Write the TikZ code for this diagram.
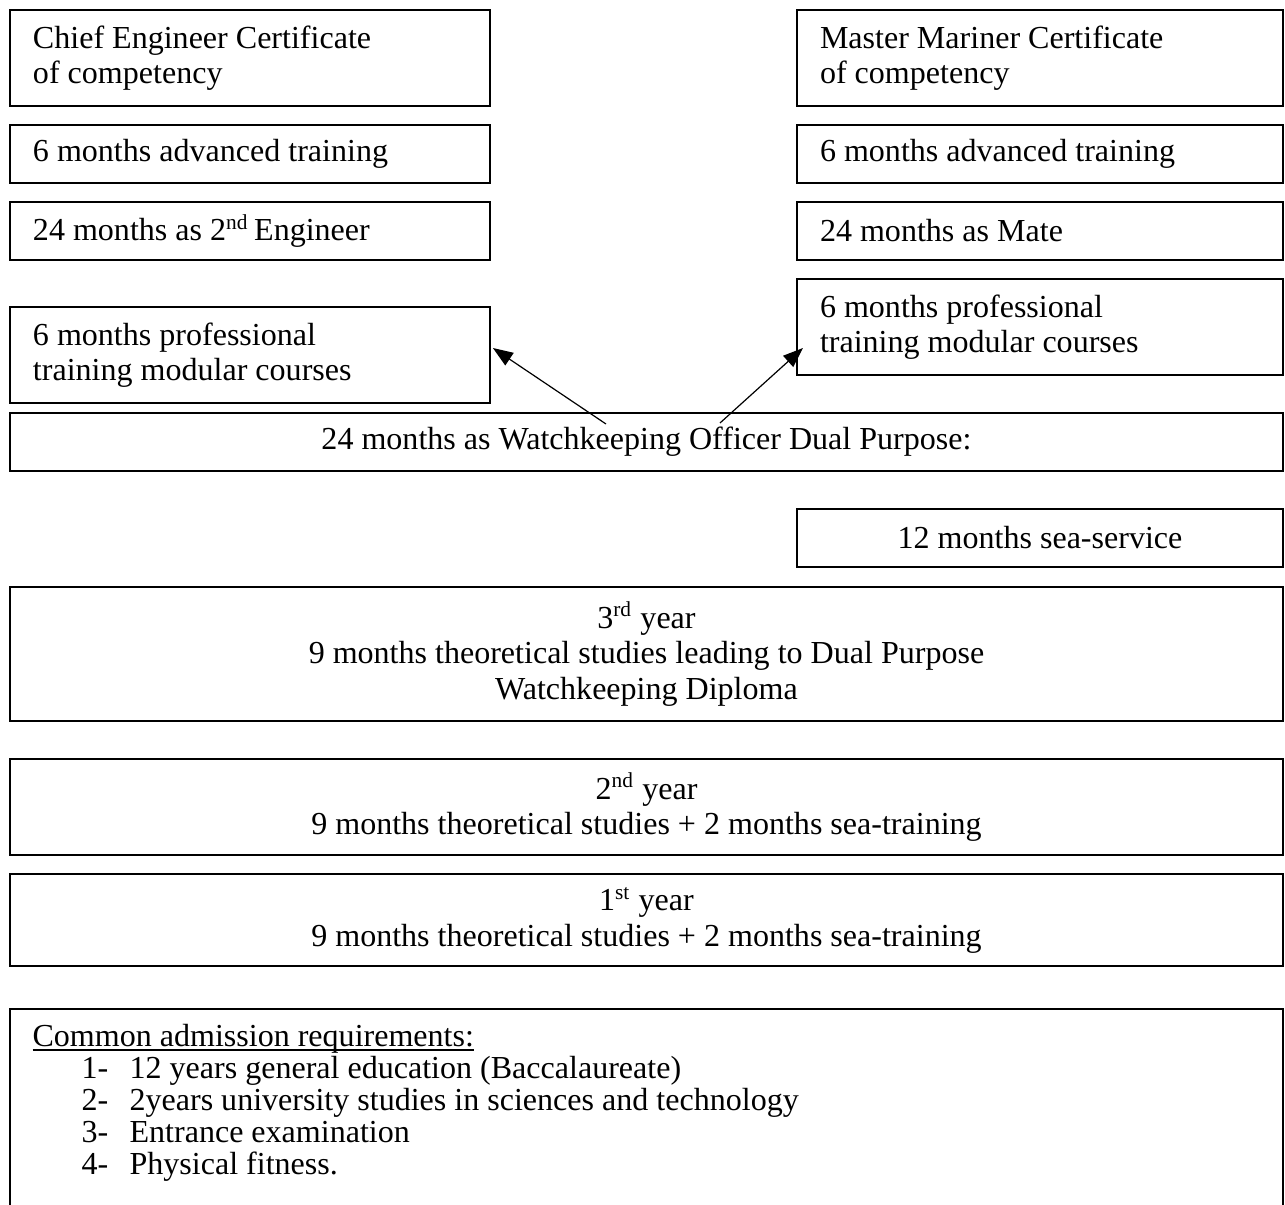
\documentclass[tikz,border=0pt]{standalone}
\usepackage{fontspec}
\setmainfont{Liberation Serif}
\usetikzlibrary{arrows.meta,calc}
\newcommand\ulinetext[1]{\setbox0=\hbox{#1}\rlap{\rule[-1.4pt]{\wd0}{0.55pt}}\box0}
\begin{document}
\begin{tikzpicture}[x=0.3745pt,y=-0.3745pt,
  font=\fontsize{12}{13.3}\selectfont,
  box/.style={draw, line width=0.6pt, inner xsep=8.61pt, inner ysep=0pt, outer sep=0pt, anchor=north west},
  lbox/.style={box, align=flush left, text width=162.5pt},
  rbox/.style={box, align=flush left, text width=164.8pt},
  fbox/.style={box, align=flush center, text width=459.5pt},
  sbox/.style={box, align=flush center, text width=164.8pt},
  arr/.style={line width=0.45pt, -{Triangle[length=7.5pt,width=5.6pt]}}]
\clip (0,0) rectangle (1285,1205);
% left column
\node[lbox, minimum height=35.95pt] (L1) at (10,10) {Chief Engineer Certificate\\of competency};
\node[lbox, minimum height=21.72pt] (L2) at (10,125) {6 months advanced training};
\node[lbox, minimum height=21.72pt] (L3) at (10,202) {24 months as 2\textsuperscript{nd}\,Engineer};
\node[lbox, minimum height=35.95pt] (L4) at (10,307) {6 months professional\\training modular courses};
% right column
\node[rbox, minimum height=35.95pt] (R1) at (797,10) {Master Mariner Certificate\\of competency};
\node[rbox, minimum height=21.72pt] (R2) at (797,125) {6 months advanced training};
\node[rbox, minimum height=21.72pt] (R3) at (797,202) {24 months as Mate};
\node[rbox, minimum height=35.95pt] (R4) at (797,279) {6 months professional\\training modular courses};
% full width
\node[fbox, minimum height=21.72pt] (W) at (10,413) {24 months as Watchkeeping Officer Dual Purpose:};
\node[sbox, minimum height=21.72pt] (S) at (797,509) {12 months sea-service};
\node[fbox, minimum height=50.2pt] (Y3) at (10,587) {3\textsuperscript{rd} year\\9 months theoretical studies leading to Dual Purpose\\Watchkeeping Diploma};
\node[fbox, minimum height=35.95pt] (Y2) at (10,759) {2\textsuperscript{nd} year\\9 months theoretical studies + 2 months sea-training};
\node[fbox, minimum height=34.5pt] (Y1) at (10,874) {1\textsuperscript{st} year\\9 months theoretical studies + 2 months sea-training};
\node[box, minimum width=476.7pt, minimum height=90pt, inner xsep=0pt] (A) at (10,1009) {};
\node[anchor=north west, align=left, inner sep=0pt, font=\fontsize{12}{12}\selectfont] (At) at (32,1024) {\ulinetext{Common admission requirements:}\\
\hspace*{18.35pt}\makebox[18pt][l]{1-}12 years general education (Baccalaureate)\\
\hspace*{18.35pt}\makebox[18pt][l]{2-}2years university studies in sciences and technology\\
\hspace*{18.35pt}\makebox[18pt][l]{3-}Entrance examination\\
\hspace*{18.35pt}\makebox[18pt][l]{4-}Physical fitness.};
% arrows
\coordinate (w1) at (606,424);
\coordinate (w2) at (720,423);
\draw[arr] (w1) -- ([shift={(3,-7)}]L4.east);
\draw[arr] (w2) -- ([shift={(6,21)}]R4.west);
\end{tikzpicture}
\end{document}
